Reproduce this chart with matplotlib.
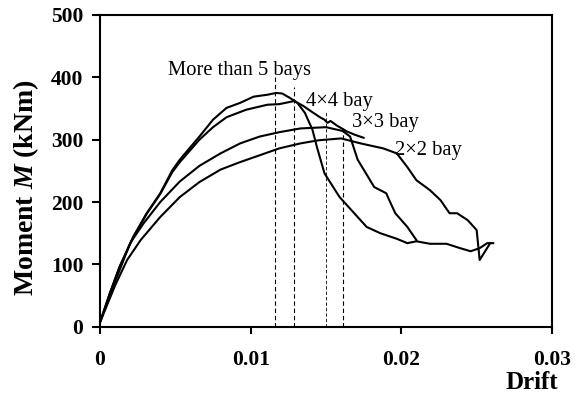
import numpy as np
import matplotlib.pyplot as plt

plt.rcParams['font.family'] = ['Liberation Serif', 'DejaVu Serif']
plt.rcParams['mathtext.fontset'] = 'custom'
plt.rcParams['mathtext.it'] = 'Liberation Serif:italic:bold'
plt.rcParams['mathtext.rm'] = 'Liberation Serif:bold'

# curves: drift, moment (kNm)
drift_5 = [0.0, 0.00066, 0.0013, 0.0022, 0.0031, 0.004, 0.0048, 0.0053, 0.0066, 0.0075, 0.0084,
           0.0093, 0.0102, 0.0111, 0.0117, 0.0121, 0.0126, 0.0131, 0.0136, 0.0141, 0.0144, 0.0149,
           0.0159, 0.0177, 0.0186, 0.0197, 0.0204, 0.021, 0.0219, 0.023, 0.0239, 0.0246, 0.0252,
           0.0257, 0.0261]
moment_5 = [7, 54, 96, 144, 182, 214, 251, 268, 305, 332, 351,
            359, 369, 372, 375, 374, 367, 359, 343, 316, 288, 246,
            208, 160, 150, 141, 134, 137, 133, 133, 126, 121, 126,
            134, 134]

drift_4 = [0.0, 0.00066, 0.0013, 0.0022, 0.0031, 0.004, 0.0048, 0.0053, 0.0066, 0.0075, 0.0084,
           0.0097, 0.0111, 0.0119, 0.0129, 0.0135, 0.0141, 0.0146, 0.0149, 0.0151, 0.0153, 0.0157,
           0.0164, 0.0169, 0.0175]
moment_4 = [7, 54, 96, 143, 181, 213, 248, 264, 300, 320, 336,
            348, 356, 357, 362, 354, 344, 336, 332, 327, 330, 323,
            313, 308, 303]

drift_3 = [0.0, 0.001, 0.002, 0.0029, 0.004, 0.0053, 0.0066, 0.008, 0.0093, 0.0106, 0.0119, 0.0133,
           0.015, 0.0161, 0.0166, 0.0171, 0.0182, 0.019, 0.0192, 0.0196, 0.0204, 0.021]
moment_3 = [7, 72, 134, 166, 200, 233, 258, 278, 294, 305, 312, 318,
            320, 314, 305, 268, 224, 214, 203, 182, 160, 139]

drift_2 = [0.0, 0.001, 0.0018, 0.0027, 0.004, 0.0053, 0.0066, 0.008, 0.0093, 0.0106, 0.0119, 0.0133,
           0.0145, 0.0155, 0.016, 0.0173, 0.0188, 0.0197, 0.0204, 0.021, 0.0219, 0.0226, 0.0232,
           0.0237, 0.0244, 0.025, 0.0252, 0.0259]
moment_2 = [7, 66, 107, 139, 176, 208, 232, 252, 264, 275, 286, 294,
            299, 301, 302, 294, 286, 278, 256, 235, 219, 203, 182,
            182, 171, 155, 107, 134]

# dashed markers: drift at peak and top of dashed line
peak_drift = [0.0116, 0.0129, 0.0150, 0.0161]
peak_top = [400, 385, 345, 319]
labels = ['More than 5 bays', '4\u00d74 bay', '3\u00d73 bay', '2\u00d72 bay']
label_x = [0.0045, 0.0137, 0.0167, 0.0196]
label_y = [411, 362, 328, 283]

fig = plt.figure(figsize=(5.8, 3.94), dpi=100)
ax = fig.add_axes([0.1724, 0.1708, 0.7793, 0.7912])

for d, m in [(drift_5, moment_5), (drift_4, moment_4), (drift_3, moment_3), (drift_2, moment_2)]:
    ax.plot(d, m, color='black', lw=1.5, solid_joinstyle='round')

for i in range(len(peak_drift)):
    ax.plot([peak_drift[i], peak_drift[i]], [0, peak_top[i]], color='black',
            lw=0.8 if i != 2 else 0.6, ls=(0, (4, 2.5)))

for i in range(len(labels)):
    ax.text(label_x[i], label_y[i], labels[i], fontsize=14.8, va='center', ha='left')

ax.set_xlim(0, 0.03)
ax.set_ylim(0, 500)
ax.set_xticks([0, 0.01, 0.02, 0.03])
ax.set_xticklabels(['0', '0.01', '0.02', '0.03'])
ax.set_yticks([0, 100, 200, 300, 400, 500])
for s in ax.spines.values():
    s.set_linewidth(1.5)
ax.tick_params(axis='x', direction='out', length=5, width=1.5, pad=12, labelsize=15.5)
ax.tick_params(axis='y', direction='out', length=6, width=1.5, pad=6, labelsize=15.5)
for t in ax.get_xticklabels() + ax.get_yticklabels():
    t.set_fontweight('bold')

ax.set_ylabel(r'Moment $M$ (kNm)', fontsize=20, fontweight='bold')
ax.yaxis.set_label_coords(-0.131, 0.445)
ax.text(1.013, -0.18, 'Drift', transform=ax.transAxes, fontsize=18, fontweight='bold',
        ha='right', va='center')

fig.savefig('out.png', dpi=100)
